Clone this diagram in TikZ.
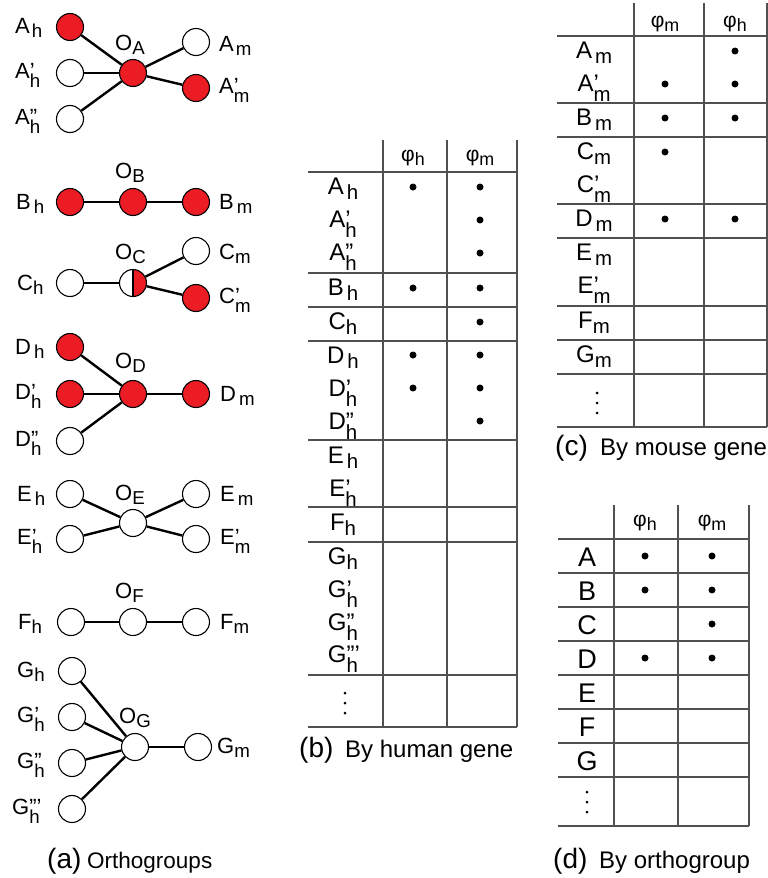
\documentclass[tikz,border=0pt]{standalone}
\usepackage{fontspec}
\setmainfont{Liberation Sans}
\usepackage{graphicx}
\definecolor{nred}{RGB}{236,28,36}
\definecolor{tgray}{RGB}{80,80,80}
\newcommand\gsub[3][0pt]{#2\kern#1\raisebox{-0.22em}{\scalebox{0.85}{#3}}}
\newcommand\gpri[3]{#1\rlap{#2}\raisebox{-0.42em}{\scalebox{0.85}{#3}}}
\begin{document}
\begin{tikzpicture}[x=1pt,y=-1pt,
  gene/.style={circle,draw=black,line width=1.1pt,minimum size=27pt,inner sep=0pt,fill=white},
  redgene/.style={gene,fill=nred},
  halfgene/.style={gene,path picture={\fill[nred] (path picture bounding box.south) rectangle (path picture bounding box.north east);
      \draw[line width=1.1pt] (path picture bounding box.south) -- (path picture bounding box.north);}},
  edge/.style={line width=2.4pt},
  lbl/.style={anchor=base west,inner sep=0pt,font=\fontsize{22}{22}\selectfont},
  tlbl/.style={anchor=base,inner sep=0pt,font=\fontsize{24}{24}\selectfont},
  dlbl/.style={anchor=base,inner sep=0pt,font=\fontsize{27}{27}\selectfont},
  hlbl/.style={anchor=center,inner sep=0pt,font=\fontsize{21}{21}\selectfont},
  hline/.style={line width=1.1pt,draw=tgray},
  vline/.style={line width=1.1pt,draw=tgray},
  bullet/.style={circle,fill=black,inner sep=0pt,minimum size=7pt},
  vdot/.style={circle,fill=black,inner sep=0pt,minimum size=3pt},
  capbig/.style={anchor=base west,inner sep=0pt,font=\fontsize{28}{28}\selectfont},
  capsmall/.style={anchor=base west,inner sep=0pt,font=\fontsize{24}{24}\selectfont},
]
\useasboundingbox (0,0) rectangle (768,878);

% ================= panel (a) =================
% A
\node[redgene] (Ah) at (70,27) {};
\node[gene] (Ah1) at (70,73) {};
\node[gene] (Ah2) at (70,119) {};
\node[redgene] (OA) at (133,73) {};
\node[gene] (Am) at (196,42) {};
\node[redgene] (Am1) at (196,88) {};
\foreach \n in {Ah,Ah1,Ah2,Am,Am1} \draw[edge] (OA) -- (\n);
\node[lbl] (lAh) at (15,33) {\gsub[2pt]{A}{h}};
\node[lbl] (lAh1) at (15,78) {\gpri{A}{’}{h}};
\node[lbl] (lAh2) at (15,124) {\gpri{A}{”}{h}};
\node[lbl] (lOA) at (115,50) {\gsub{O}{A}};
\node[lbl] (lAm) at (219,51) {\gsub[2pt]{A}{m}};
\node[lbl] (lAm1) at (219,93) {\gpri{A}{’}{m}};
% B
\node[redgene] (Bh) at (70,202) {};
\node[redgene] (OB) at (133,202) {};
\node[redgene] (Bm) at (196,202) {};
\draw[edge] (Bh) -- (OB) -- (Bm);
\node[lbl] (lBh) at (16,209) {\gsub[3pt]{B}{h}};
\node[lbl] (lOB) at (115,178) {\gsub{O}{B}};
\node[lbl] (lBm) at (219,209) {\gsub[3pt]{B}{m}};
% C
\node[gene] (Ch) at (70,283) {};
\node[halfgene] (OC) at (133,283) {};
\node[gene] (Cm) at (196,251) {};
\node[redgene] (Cm1) at (196,298) {};
\draw[edge] (Ch) -- (OC);
\draw[edge] (OC) -- (Cm);
\draw[edge] (OC) -- (Cm1);
\node[lbl] (lCh) at (17,290) {\gsub{C}{h}};
\node[lbl] (lOC) at (115,259) {\gsub{O}{C}};
\node[lbl] (lCm) at (219,259) {\gsub{C}{m}};
\node[lbl] (lCm1) at (219,303) {\gpri{C}{’}{m}};
% D
\node[redgene] (Dh) at (70,347) {};
\node[redgene] (Dh1) at (70,394) {};
\node[gene] (Dh2) at (70,441) {};
\node[redgene] (OD) at (133,394) {};
\node[redgene] (Dm) at (196,394) {};
\foreach \n in {Dh,Dh1,Dh2,Dm} \draw[edge] (OD) -- (\n);
\node[lbl] (lDh) at (15,354) {\gsub[3pt]{D}{h}};
\node[lbl] (lDh1) at (15,399) {\gpri{D}{’}{h}};
\node[lbl] (lDh2) at (15,446) {\gpri{D}{”}{h}};
\node[lbl] (lOD) at (115,368) {\gsub{O}{D}};
\node[lbl] (lDm) at (220,401) {\gsub[3pt]{D}{m}};
% E
\node[gene] (Eh) at (70,494) {};
\node[gene] (Eh1) at (70,539) {};
\node[gene] (OE) at (133,523) {};
\node[gene] (Em) at (196,494) {};
\node[gene] (Em1) at (196,539) {};
\foreach \n in {Eh,Eh1,Em,Em1} \draw[edge] (OE) -- (\n);
\node[lbl] (lEh) at (17,501) {\gsub[3pt]{E}{h}};
\node[lbl] (lEh1) at (17,544) {\gpri{E}{’}{h}};
\node[lbl] (lOE) at (115,500) {\gsub{O}{E}};
\node[lbl] (lEm) at (220,501) {\gsub[3pt]{E}{m}};
\node[lbl] (lEm1) at (220,544) {\gpri{E}{’}{m}};
% F
\node[gene] (Fh) at (71,622) {};
\node[gene] (OF) at (133,622) {};
\node[gene] (Fm) at (196,622) {};
\draw[edge] (Fh) -- (OF) -- (Fm);
\node[lbl] (lFh) at (18,629) {\gsub{F}{h}};
\node[lbl] (lOF) at (115,598) {\gsub{O}{F}};
\node[lbl] (lFm) at (220,629) {\gsub{F}{m}};
% G
\node[gene] (Gh) at (72,671) {};
\node[gene] (Gh1) at (72,717) {};
\node[gene] (Gh2) at (72,763) {};
\node[gene] (Gh3) at (72,809) {};
\node[gene] (OG) at (135,747) {};
\node[gene] (Gm) at (198,747) {};
\foreach \n in {Gh,Gh1,Gh2,Gh3,Gm} \draw[edge] (OG) -- (\n);
\node[lbl] (lGh) at (17,677) {\gsub{G}{h}};
\node[lbl] (lGh1) at (17,722) {\gpri{G}{’}{h}};
\node[lbl] (lGh2) at (17,768) {\gpri{G}{”}{h}};
\node[lbl] (lGh3) at (12,814) {\gpri{G}{”’}{h}};
\node[lbl] (lOG) at (119,723) {\gsub{O}{G}};
\node[lbl] (lGm) at (217,753) {\gsub{G}{m}};
% caption
\node[capbig] (capa) at (47,868) {(a)};
\node[capsmall,font=\fontsize{22.5}{22.5}\selectfont] (capa2) at (87,868) {Orthogroups};

% ================= table (b) =================
\foreach \x in {383,447,517} \draw[vline] (\x,140) -- (\x,727);
\foreach \y in {172,273,307,341,440,507,542,675,727} \draw[hline] (308,\y) -- (517,\y);
\node[hlbl] (bph) at (413,158) {\gsub{φ}{h}};
\node[hlbl] (bpm) at (480,158) {\gsub{φ}{m}};
\node[tlbl] (bA) at (343,194) {\gsub[3pt]{A}{h}};
\node[tlbl] (bA1) at (343,227) {\gpri{A}{’}{h}};
\node[tlbl] (bA2) at (343,260) {\gpri{A}{”}{h}};
\node[tlbl] (bB) at (343,295) {\gsub[3pt]{B}{h}};
\node[tlbl] (bC) at (343,329) {\gsub{C}{h}};
\node[tlbl] (bD) at (343,363) {\gsub[3pt]{D}{h}};
\node[tlbl] (bD1) at (343,396) {\gpri{D}{’}{h}};
\node[tlbl] (bD2) at (343,429) {\gpri{D}{”}{h}};
\node[tlbl] (bE) at (343,463) {\gsub[3pt]{E}{h}};
\node[tlbl] (bE1) at (343,496) {\gpri{E}{’}{h}};
\node[tlbl] (bF) at (343,530) {\gsub{F}{h}};
\node[tlbl] (bG) at (343,564) {\gsub{G}{h}};
\node[tlbl] (bG1) at (343,597) {\gpri{G}{’}{h}};
\node[tlbl] (bG2) at (343,630) {\gpri{G}{”}{h}};
\node[tlbl] (bG3) at (343,662) {\gpri{G}{”’}{h}};
\foreach \y in {693,703,713} \node[vdot] at (345,\y) {};
\foreach \x/\y in {413/187,480/187,480/220,480/253,413/288,480/288,480/322,413/355,480/355,413/388,480/388,480/421}
  \node[bullet] at (\x,\y) {};
\node[capbig] (capb) at (299,757) {(b)};
\node[capsmall] (capb2) at (345,757) {By human gene};

% ================= table (c) =================
\foreach \x in {634,704,767} \draw[vline] (\x,3) -- (\x,427);
\foreach \y in {36,103,137,204,238,306,340,374,427} \draw[hline] (557,\y) -- (767,\y);
\node[hlbl] (cpm) at (665,24) {\gsub{φ}{m}};
\node[hlbl] (cph) at (735,24) {\gsub{φ}{h}};
\node[tlbl] (cA) at (594,58) {\gsub[3pt]{A}{m}};
\node[tlbl] (cA1) at (594,91) {\gpri{A}{’}{m}};
\node[tlbl] (cB) at (594,125) {\gsub[3pt]{B}{m}};
\node[tlbl] (cC) at (594,159) {\gsub{C}{m}};
\node[tlbl] (cC1) at (594,192) {\gpri{C}{’}{m}};
\node[tlbl] (cD) at (594,226) {\gsub[3pt]{D}{m}};
\node[tlbl] (cE) at (594,260) {\gsub[3pt]{E}{m}};
\node[tlbl] (cE1) at (594,293) {\gpri{E}{’}{m}};
\node[tlbl] (cF) at (594,328) {\gsub{F}{m}};
\node[tlbl] (cG) at (594,362) {\gsub{G}{m}};
\foreach \y in {393,403,413} \node[vdot] at (597,\y) {};
\foreach \x/\y in {735/51,665/84,735/84,665/118,735/118,665/152,665/219,735/219}
  \node[bullet] at (\x,\y) {};
\node[capbig] (capc) at (555,455) {(c)};
\node[capsmall] (capc2) at (600,455) {By mouse gene};

% ================= table (d) =================
\foreach \x in {614,678,749} \draw[vline] (\x,505) -- (\x,826);
\foreach \y in {539,573,607,641,675,709,743,777,826} \draw[hline] (558,\y) -- (749,\y);
\node[hlbl] (dph) at (645,523) {\gsub{φ}{h}};
\node[hlbl] (dpm) at (712,523) {\gsub{φ}{m}};
\foreach \t/\y in {A/566,B/600,C/634,D/668,E/702,F/736,G/770}
  \node[dlbl] at (587,\y) {\t};
\foreach \y in {792,802,812} \node[vdot] at (587,\y) {};
\foreach \x/\y in {645/556,712/556,645/590,712/590,712/624,645/658,712/658}
  \node[bullet] at (\x,\y) {};
\node[capbig] (capd) at (553,868) {(d)};
\node[capsmall] (capd2) at (599,868) {By orthogroup};
\end{tikzpicture}
\end{document}
